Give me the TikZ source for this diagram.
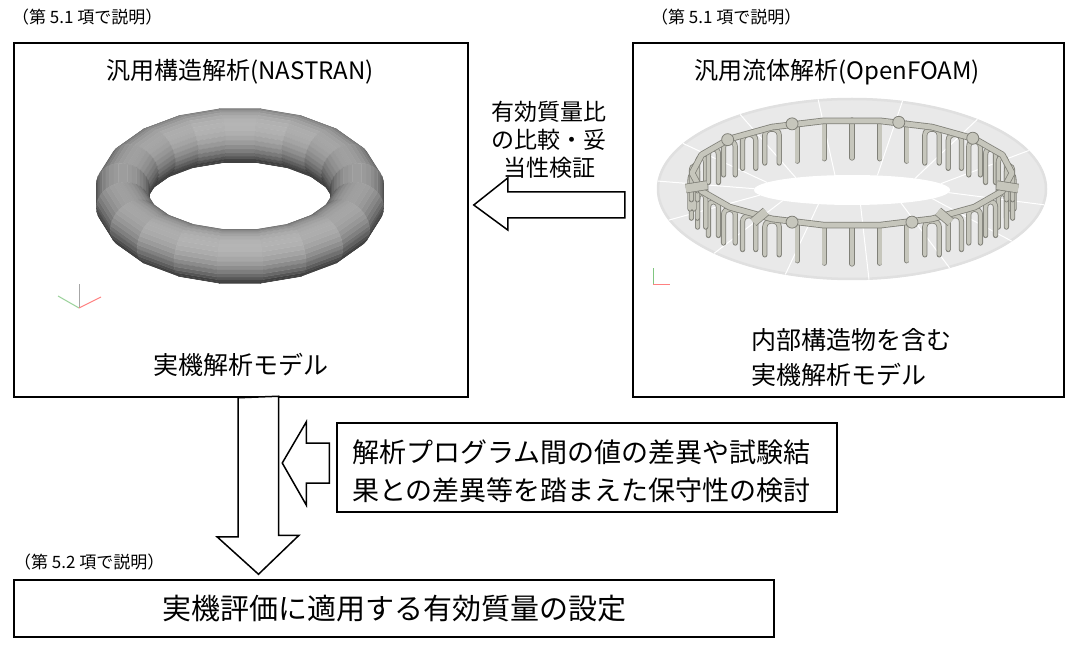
\documentclass[tikz,border=0pt]{standalone}
\usepackage{fontspec}
\setmainfont{Noto Sans CJK JP}
\usepackage{tikz}
\usetikzlibrary{positioning, calc}

\definecolor{pipefill}{RGB}{198,198,188}
\definecolor{pipeedge}{RGB}{128,128,120}
\definecolor{ghost}{RGB}{233,233,233}

% point du tore (u, v)
\newcommand{\torept}[2]{({240+(118.5+27*cos(#2))*cos(#1)},{196-23.14*sin(#2)-(118.5+27*cos(#2))*sin(#1)*0.515})}

\begin{document}
\begin{tikzpicture}[x=1pt, y=-1pt]
        % Style des noeuds
        \tikzstyle{box} = [rectangle, draw=black, line width=1.5pt, inner sep=0pt]
        \tikzstyle{note} = [inner sep=0pt, anchor=west, font=\fontsize{17}{20}\selectfont]
        \tikzstyle{blockarrow} = [draw=black, line width=1.5pt, fill=white, line join=miter]
        \tikzstyle{pipe} = [draw=pipeedge, line width=0.8pt, double=pipefill, double distance=3.6pt, line cap=round]

        \fill[white] (0,0) rectangle (1066,663);
        \useasboundingbox (0,0) rectangle (1066,663);

        % Cadres
        \node (nastran) [box, minimum width=454pt, minimum height=354pt] at (241,220) {};
        \node (openfoam) [box, minimum width=431pt, minimum height=354pt] at (848.5,220) {};
        \node (verif) [box, minimum width=500pt, minimum height=89pt] at (587,467.5) {};
        \node (reglage) [box, minimum width=760pt, minimum height=57pt, font=\fontsize{29}{34}\selectfont] at (394,608.5) {実機評価に適用する有効質量の設定};

        % Tore (NASTRAN)
        \foreach \k in {0,...,10} {
            \foreach \s in {-1,1} {
                \pgfmathsetmacro{\uc}{90+\s*18*\k}
                \pgfmathsetmacro{\ua}{\uc-9}
                \pgfmathsetmacro{\ub}{\uc+9}
                \foreach \v in {0,10,...,350} {
                    \pgfmathsetmacro{\vb}{\v+10}
                    \pgfmathsetmacro{\vm}{\v+5}
                    \pgfmathtruncatemacro{\vis}{(-cos(\vm)*sin(\uc)*0.857+sin(\vm)*0.515)>-0.02 ? 1 : 0}
                    \ifnum\vis=1
                        \pgfmathsetmacro{\lum}{max(0,-cos(\vm)*sin(\uc)*0.6+sin(\vm)*0.8)}
                        \pgfmathsetmacro{\lum}{25+46*\lum}
                        \filldraw[fill=white!\lum!black, draw=white!\lum!black, line width=0.3pt]
                            \torept{\ua}{\v} -- \torept{\ub}{\v} -- \torept{\ub}{\vb} -- \torept{\ua}{\vb} -- cycle;
                    \fi
                }
            }
        }

        % Tore (OpenFOAM)
        \fill[ghost] (852,189) ellipse [x radius=195pt, y radius=91pt];
        \draw[black!12, line width=2.5pt] (852,189) ellipse [x radius=194pt, y radius=90pt];
        \fill[white] (852,190) ellipse [x radius=98pt, y radius=15pt];
        \foreach \t in {10,35,...,335}
            \draw[white, line width=1pt] ({852+195*cos(\t)},{189+91*sin(\t)}) -- ({852+98*cos(\t)},{190+15*sin(\t)});

        % Tuyaux
        \foreach \t in {0,10,...,350} {
            \pgfmathsetmacro{\px}{852+160*cos(\t)}
            \pgfmathsetmacro{\py}{173+53*sin(\t)}
            \pgfmathsetmacro{\w}{2+6*abs(sin(\t))}
            \pgfmathtruncatemacro{\arche}{abs(cos(\t))>0.35 ? 1 : 0}
            \ifnum\arche=1
                \draw[pipe] ({\px-\w},{\py+36}) -- ({\px-\w},{\py+8}) .. controls ({\px-\w},{\py}) and ({\px+\w},{\py}) .. ({\px+\w},{\py+8}) -- ({\px+\w},{\py+36});
            \else
                \draw[pipe] ({\px},{\py}) -- ({\px},{\py+38});
            \fi
        }
        \draw[pipe, double distance=5pt, line join=round] plot[domain=0:340, samples=18] ({852+160*cos(\x)},{173+53*sin(\x)}) -- cycle;
        \foreach \t in {15,55,125,165}
            \draw[pipe, double distance=8pt, line cap=butt] ({852+150*cos(\t)},{173+47*sin(\t)}) -- ({852+172*cos(\t)},{173+60*sin(\t)});
        \foreach \t in {68,112,219,248,287,319}
            \filldraw[draw=pipeedge, fill=pipefill, line width=0.8pt] ({852+160*cos(\t)},{173+53*sin(\t)}) circle (6pt);

        % Axes
        \draw[black!35, line width=0.8pt] (79,308) -- (79,284);
        \draw[green!55!black!40, line width=1pt] (79,308) -- (58,296);
        \draw[red!50, line width=1pt] (79,308) -- (101,297);
        \draw[green!55!black!50, line width=1pt] (653,285) -- (653,268);
        \draw[red!50, line width=1pt] (653,285) -- (670,285);

        % Textes
        \node (titreS) [font=\fontsize{24}{26}\selectfont] at (240,72) {汎用構造解析(NASTRAN)};
        \node (titreF) [font=\fontsize{24}{26}\selectfont] at (837,72) {汎用流体解析(OpenFOAM)};
        \node (modeleS) [font=\fontsize{25}{28}\selectfont] at (241,365) {実機解析モデル};
        \node (modeleF) [font=\fontsize{25}{35}\selectfont, align=left, anchor=west, inner sep=0pt] at (751,357.5) {内部構造物を含む\\実機解析モデル};
        \node (ratio) [font=\fontsize{23}{28}\selectfont, align=center] at (549,140) {有効質量比\\の比較・妥\\当性検証};
        \node (verifTxt) [font=\fontsize{27}{38}\selectfont, align=left, anchor=west, inner sep=0pt] at (352,471) {解析プログラム間の値の差異や試験結\\果との差異等を踏まえた保守性の検討};
        \node (note1) [note] at (12,17) {（第 5.1 項で説明）};
        \node (note2) [note] at (651,17) {（第 5.1 項で説明）};
        \node (note3) [note] at (14,562) {（第 5.2 項で説明）};

        % Flèches
        \coordinate (htip) at ($(nastran.east)+(5,-15)$);
        \draw[blockarrow] (htip) -- ++(34,-27) -- ++(0,14) -- ++(117,0) -- ++(0,26) -- ++(-117,0) -- ++(0,12) -- cycle;
        \coordinate (dtop) at ($(nastran.south)+(17.5,0)$);
        \coordinate (dtip) at ($(dtop |- reglage.north)+(0,-5)$);
        \draw[blockarrow] (dtop) ++(-20.5,0) -- ++(0,139) -- ++(-21,0) -- (dtip) -- ++(40.5,-39) -- ++(-20.5,0) -- ++(0,-139) -- cycle;
        \coordinate (ltip) at ($(verif.west)+(-54,-4.5)$);
        \draw[blockarrow] (ltip) -- ++(24,-41) -- ++(0,21) -- ++(23,0) -- ++(0,40) -- ++(-23,0) -- ++(0,22) -- cycle;
    \end{tikzpicture}
\end{document}
